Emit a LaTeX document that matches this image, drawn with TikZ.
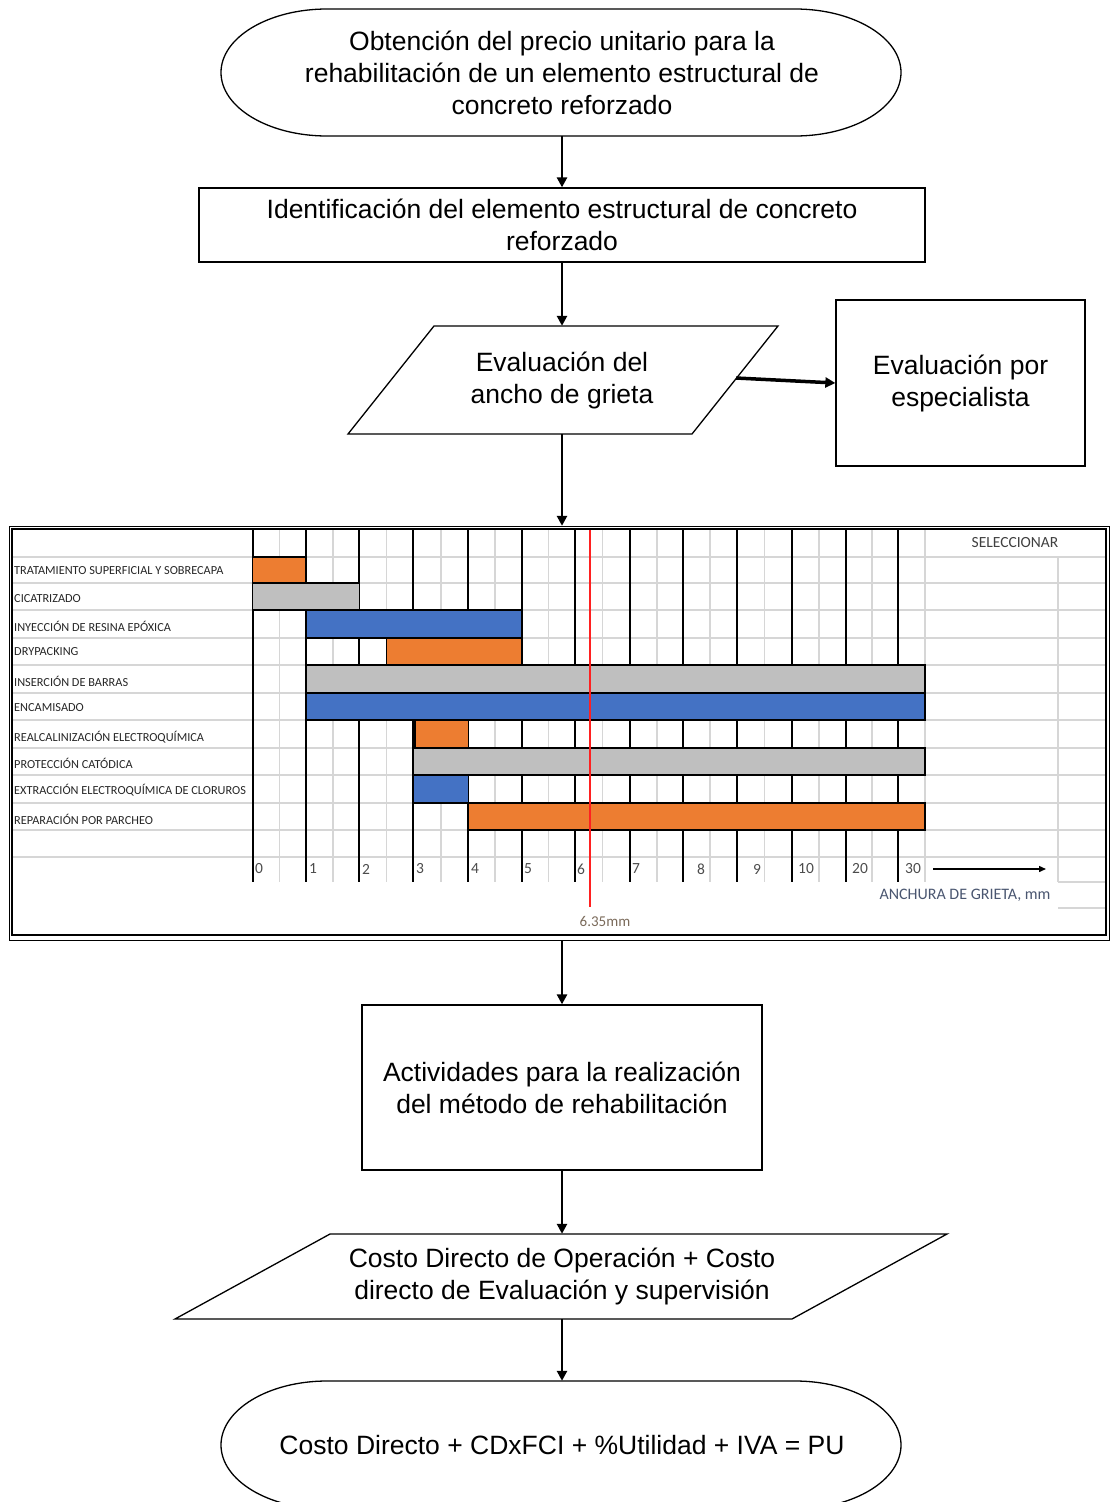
\documentclass[tikz,border=0pt]{standalone}
\usepackage{fontspec}
\setmainfont{Liberation Sans}
\newfontfamily\chartfont{Carlito}
\usetikzlibrary{arrows.meta}
\definecolor{barorange}{HTML}{ED7D31}
\definecolor{bargrey}{HTML}{BFBFBF}
\definecolor{barblue}{HTML}{4472C4}
\definecolor{gridgrey}{HTML}{D6D6D6}
\definecolor{axistext}{HTML}{4A5670}
\definecolor{marktext}{HTML}{7A6A5A}
\definecolor{redmark}{HTML}{FF2020}
\begin{document}
\begin{tikzpicture}[x=1pt,y=-1pt,
  flow/.style={font=\fontsize{26.5}{32}\selectfont, align=center, inner sep=0pt},
  box/.style={flow, draw, line width=1.3},
  outline/.style={line width=1.3},
  conn/.style={line width=2.6, -{Triangle[length=10pt,width=10pt]}},
  rowlab/.style={font=\chartfont\fontsize{12.3}{13}\selectfont, anchor=west, inner sep=0pt, text=black!85},
  axnum/.style={font=\chartfont\fontsize{15.5}{16}\selectfont, text=black!70, inner sep=0pt},
  major/.style={line width=1.8},
  minorg/.style={gridgrey, line width=1.6},
  bar/.style={draw=black, line width=1.1},
]
\useasboundingbox (0,0) rectangle (1110,1502);
\clip (0,0) rectangle (1110,1502);

% ---------- start terminator ----------
\draw[outline] (327,9) -- (795,9) arc[start angle=-90,end angle=90,x radius=106,y radius=63.5]
  -- (327,136) arc[start angle=90,end angle=270,x radius=106,y radius=63.5] -- cycle;
\node[flow, minimum width=680, minimum height=127] (start) at (562,72.5)
  {Obtención del precio unitario para la\\rehabilitación de un elemento estructural de\\concreto reforzado};

% ---------- identification ----------
\node[box, minimum width=726, minimum height=74] (ident) at (562,225)
  {Identificación del elemento estructural de concreto\\reforzado};

% ---------- evaluation parallelogram ----------
\draw[outline] (434,326) -- (778,326) -- (692,434) -- (348,434) -- cycle;
\node[flow, minimum width=344, minimum height=108] (eval) at (562,380)
  {Evaluación del\\ancho de grieta};

% ---------- specialist ----------
\node[box, minimum width=249, minimum height=166] (spec) at (960.5,383)
  {Evaluación por\\especialista};
\coordinate (evalE) at (736,378);

% ---------- chart ----------
\node[minimum width=1100, minimum height=414, inner sep=0pt] (chart) at (562,733) {};

% light grid
\foreach \yy in {557,583,610,638,665,693,720,748,775,803,830,857}
  \draw[minorg] (12,\yy) -- (1105,\yy);
\foreach \xx in {279.5,332.7,386.3,440.7,495,548.3,602.5,657,710,764.5,819,872,925}
  \draw[minorg] (\xx,529) -- (\xx,882);
\draw[minorg] (1058,557) -- (1058,882);
\draw[minorg] (1058,882) -- (1105,882);
\draw[minorg] (1058,908) -- (1105,908);

% major black lines
\foreach \xx in {252.7,306,359.3,413.3,468.3,521.7,575,630,683.3,736.7,792.3,845.7,898.3}
  \draw[major] (\xx,528) -- (\xx,882);

% bars
\path[bar, fill=barorange] (252.7,557) rectangle (306,583);
\path[bar, fill=bargrey]   (252.7,583) rectangle (359.3,610);
\path[bar, fill=barblue]   (306,610) rectangle (521.7,638);
\path[bar, fill=barorange] (386.5,638) rectangle (521.7,665);
\path[bar, fill=bargrey]   (306,665) rectangle (925,693);
\path[bar, fill=barblue]   (306,693) rectangle (925,720);
\path[bar, fill=barorange] (415,720) rectangle (468.3,748);
\path[bar, fill=bargrey]   (413.3,748) rectangle (925,775);
\path[bar, fill=barblue]   (413.3,775) rectangle (468.3,803);
\path[bar, fill=barorange] (468.3,803) rectangle (925,830);

% red marker
\draw[redmark, line width=2] (590,528) -- (590,907);

% row labels
\node[rowlab] (r1) at (14,571) {TRATAMIENTO SUPERFICIAL Y SOBRECAPA};
\node[rowlab] (r2) at (14,599) {CICATRIZADO};
\node[rowlab] (r3) at (14,626) {INYECCIÓN DE RESINA EPÓXICA};
\node[rowlab] (r4) at (14,652) {DRYPACKING};
\node[rowlab] (r5) at (14,681) {INSERCIÓN DE BARRAS};
\node[rowlab] (r6) at (14,708) {ENCAMISADO};
\node[rowlab] (r7) at (14,737) {REALCALINIZACIÓN ELECTROQUÍMICA};
\node[rowlab] (r8) at (14,763) {PROTECCIÓN CATÓDICA};
\node[rowlab] (r9) at (14,790) {EXTRACCIÓN ELECTROQUÍMICA DE CLORUROS};
\node[rowlab] (r10) at (14,819) {REPARACIÓN POR PARCHEO};

\node[font=\chartfont\fontsize{15.5}{16}\selectfont, text=black!75, inner sep=0pt] (sel) at (1015,543) {SELECCIONAR};

% axis numbers
\node[axnum] (n0) at (259,869) {0};
\node[axnum] (n1) at (313,869) {1};
\node[axnum] (n2) at (366,869) {2};
\node[axnum] (n3) at (420,869) {3};
\node[axnum] (n4) at (475,869) {4};
\node[axnum] (n5) at (528,869) {5};
\node[axnum] (n6) at (581,869) {6};
\node[axnum] (n7) at (636,869) {7};
\node[axnum] (n8) at (701,869) {8};
\node[axnum] (n9) at (757,869) {9};
\node[axnum] (n10) at (806,869) {10};
\node[axnum] (n20) at (860,869) {20};
\node[axnum] (n30) at (913,869) {30};
\coordinate (axA) at (933,869);
\coordinate (axB) at (1046,869);
\draw[line width=1.4, -{Triangle[length=7pt,width=6pt]}] (axA) -- (axB);
\node[font=\chartfont\fontsize{16}{17}\selectfont, text=axistext, inner sep=0pt] (axlab) at (965,895) {ANCHURA DE GRIETA, mm};
\node[font=\chartfont\fontsize{15}{16}\selectfont, text=marktext, inner sep=0pt] (mark) at (605,921) {6.35mm};

% frame
\draw[line width=1] (9,526) rectangle (1109,940);
\draw[line width=2.2] (12,529) rectangle (1106,935);

% ---------- activities ----------
\node[box, minimum width=400, minimum height=165] (act) at (562,1087.5)
  {Actividades para la realización\\del método de rehabilitación};

% ---------- cost parallelogram ----------
\draw[outline] (330,1234) -- (947,1234) -- (792,1319) -- (175,1319) -- cycle;
\node[flow, minimum width=460, minimum height=85] (cost) at (562,1276.5)
  {Costo Directo de Operación + Costo\\directo de Evaluación y supervisión};

% ---------- end terminator ----------
\draw[outline] (327,1381) -- (795,1381) arc[start angle=-90,end angle=90,x radius=106,y radius=64]
  -- (327,1509) arc[start angle=90,end angle=270,x radius=106,y radius=64] -- cycle;
\node[flow, minimum width=680, minimum height=128] (fin) at (562,1445)
  {Costo Directo + CDxFCI + \%Utilidad + IVA = PU};

% ---------- connectors ----------
\draw[conn] (start.south) -- (ident.north);
\draw[conn] (ident.south) -- (eval.north);
\draw[conn, line width=3.5] (evalE) -- (spec.west);
\draw[conn] (eval.south) -- (chart.north);
\draw[conn] (chart.south) -- (act.north);
\draw[conn] (act.south) -- (cost.north);
\draw[conn] (cost.south) -- (fin.north);
\end{tikzpicture}
\end{document}
